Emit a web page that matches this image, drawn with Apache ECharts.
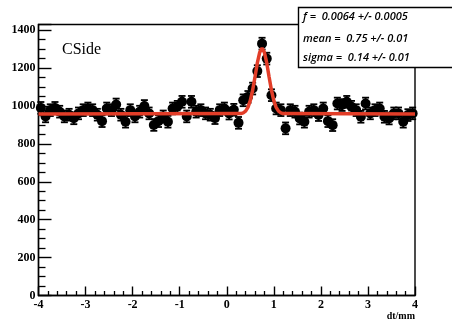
<!DOCTYPE html>
<html><head><meta charset="utf-8">
<script src="https://cdn.jsdelivr.net/npm/echarts@6/dist/echarts.min.js"></script>
<style>html,body{margin:0;padding:0;background:#fff}#c{width:452px;height:324px}</style>
</head><body><div id="c"></div>
<script>
// bin centres -3.95 ... 3.95 (width 0.1)
const binStart = -3.95, binWidth = 0.1;
const counts = [990,945,978,990,970,945,954,935,961,978,
  987,978,954,920,987,978,1008,954,917,978,
  945,970,1000,961,900,920,945,917,987,996,
  1022,945,1022,970,978,961,954,936,978,987,
  960,980,911,
  1030,1048,1092,1184,1329,1250,1057,987,978,882,
  978,970,934,917,970,978,952,987,920,899,
  1013,1005,1022,996,978,943,1013,961,978,987,
  943,934,961,961,917,952,961];
const errors = counts.map(v => 31);
const fitX = [-4,0.3,0.35,0.4,0.45,0.5,0.55,0.6,0.65,0.7,0.75,0.8,0.85,0.9,0.95,1.0,1.05,1.1,1.15,1.2,4];
const fitY = [958,960,964,973,993,1028,1083,1153,1227,1283,1305,1283,1227,1153,1083,1028,993,973,964,960,958];
const xTicks = [-4,-3,-2,-1,0,1,2,3,4];
const yTicks = [0,200,400,600,800,1000,1200,1400];
const statLines = ['f =  0.0064 +/- 0.0005','mean =  0.75 +/- 0.01','sigma =  0.14 +/- 0.01'];
const label = 'CSide';
const xTitle = 'dt/mm';

const pts = counts.map((v,i)=>[+(binStart+i*binWidth).toFixed(2), v, errors[i]]);
const fit = fitX.map((x,i)=>[x, fitY[i]]);

const chart = echarts.init(document.getElementById('c'));
const labelFont = {color:'#000', fontFamily:'Liberation Serif', fontWeight:'bold', fontSize:12};
chart.setOption({
  animation:false,
  grid:{left:38.5,right:37,top:24.5,bottom:28.5,show:true,borderColor:'#000',borderWidth:1.4,backgroundColor:'transparent'},
  xAxis:{type:'value',min:-4,max:4,interval:1,
    axisLine:{onZero:false,lineStyle:{color:'#000',width:1.4}},
    axisTick:{inside:true,length:9,lineStyle:{color:'#000',width:1.4}},
    minorTick:{show:true,splitNumber:5,length:4.5,lineStyle:{color:'#000',width:1.3}},
    splitLine:{show:false},
    axisLabel:Object.assign({margin:3,formatter:v=>xTicks.includes(v)?String(v):''},labelFont)},
  yAxis:{type:'value',min:0,max:1430,interval:200,
    axisLine:{onZero:false,lineStyle:{color:'#000',width:1.4}},
    axisTick:{inside:true,length:13,lineStyle:{color:'#000',width:1.4}},
    minorTick:{show:true,splitNumber:4,length:7,lineStyle:{color:'#000',width:1.3}},
    splitLine:{show:false},
    axisLabel:Object.assign({margin:3,showMaxLabel:false,formatter:v=>yTicks.includes(v)?String(v):''},labelFont)},
  series:[
    {type:'custom',z:2,data:pts,
      renderItem:(params,api)=>{
        const x=api.value(0),y=api.value(1),e=api.value(2);
        const top=api.coord([x,y+e]),bot=api.coord([x,y-e]);
        const s={stroke:'#000',lineWidth:1.8};
        return {type:'group',children:[
          {type:'line',shape:{x1:top[0],y1:top[1],x2:bot[0],y2:bot[1]},style:s},
          {type:'line',shape:{x1:top[0]-3.5,y1:top[1],x2:top[0]+3.5,y2:top[1]},style:s},
          {type:'line',shape:{x1:bot[0]-3.5,y1:bot[1],x2:bot[0]+3.5,y2:bot[1]},style:s}
        ]};
      }},
    {type:'scatter',z:3,data:pts.map(p=>[p[0],p[1]]),symbol:'circle',symbolSize:10,
      itemStyle:{color:'#000',opacity:1}},
    {type:'line',z:4,data:fit,showSymbol:false,symbol:'none',smooth:false,
      lineStyle:{color:'#e23d28',width:3.5}}
  ],
  graphic:[
    {type:'text',left:62,top:42,style:{text:label,font:'16px "Liberation Serif"',fill:'#000'}},
    {type:'text',right:37,top:311,style:{text:xTitle,font:'bold 10px "Liberation Serif"',fill:'#000'}},
    {type:'rect',shape:{x:298.5,y:7.5,width:170,height:60},style:{fill:'#fff',stroke:'#000',lineWidth:1.4},z:10},
    {type:'text',x:303,y:11,z:11,style:{text:statLines[0],font:'italic 600 11px "Open Sans"',fill:'#000'}},
    {type:'text',x:303,y:33,z:11,style:{text:statLines[1],font:'italic 600 11px "Open Sans"',fill:'#000'}},
    {type:'text',x:303,y:52,z:11,style:{text:statLines[2],font:'italic 600 11px "Open Sans"',fill:'#000'}}
  ]
});
</script></body></html>
